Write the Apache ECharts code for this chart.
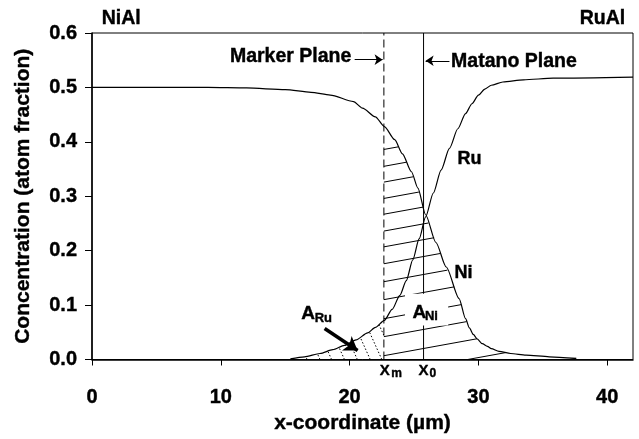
<!DOCTYPE html>
<html>
<head>
<meta charset="utf-8">
<script src="https://cdn.jsdelivr.net/npm/echarts@6/dist/echarts.min.js"></script>
<style>
  html, body { margin: 0; padding: 0; background: #fff; }
  #chart { width: 639px; height: 439px; }
</style>
</head>
<body>
<div id="chart"></div>
<script>
// Ni and Ru concentration profiles (atom fraction) vs x-coordinate (um)
var niX = [0, 5, 9, 12, 15, 17, 18.5, 20.3, 21.0, 22.0, 22.7, 23.5, 24.1, 24.8, 25.3, 25.9, 26.7, 27.5, 28.5, 29.0, 29.3, 29.6, 29.9, 30.3, 30.7, 31.0, 31.6, 32.5, 33.7, 35.5, 37.6];
var niY = [0.500, 0.500, 0.500, 0.499, 0.496, 0.491, 0.486, 0.474, 0.462, 0.446, 0.428, 0.404, 0.378, 0.345, 0.315, 0.266, 0.215, 0.170, 0.112, 0.075, 0.058, 0.046, 0.038, 0.029, 0.024, 0.020, 0.015, 0.011, 0.008, 0.005, 0.002];
var ruX = [15.4, 16.5, 17.7, 18.7, 19.6, 20.5, 21.4, 22.0, 22.7, 23.3, 23.9, 24.4, 24.9, 25.4, 25.9, 26.5, 27.1, 27.75, 28.4, 29.0, 29.5, 30.0, 30.5, 31.0, 31.9, 33.5, 35.8, 42];
var ruY = [0.001, 0.005, 0.011, 0.018, 0.026, 0.036, 0.049, 0.059, 0.072, 0.092, 0.118, 0.145, 0.183, 0.222, 0.262, 0.306, 0.348, 0.388, 0.424, 0.452, 0.470, 0.486, 0.497, 0.504, 0.510, 0.514, 0.517, 0.519];

// planes
var markerX = 22.66;
var matanoX = 25.74;

// hatching of A_Ni: heights where each line leaves the marker plane
var niHatchStarts = [0.386, 0.355, 0.326, 0.296, 0.267, 0.236, 0.207, 0.176, 0.143, 0.110, 0.075, 0.042, 0.007, -0.028, -0.062];
var niHatchSlope = 0.0043;
// dotted hatching of A_Ru: where each line meets the axis
var ruHatchBases = [16.7, 17.7, 18.6, 19.6, 20.6, 21.6, 22.5, 23.5];
var ruHatchLean = 19;

var FONT = "'Liberation Sans', Arial, sans-serif";

function interp(xs, ys, x) {
  if (x < xs[0] || x > xs[xs.length - 1]) return 0;
  for (var i = 1; i < xs.length; i++) {
    if (x <= xs[i]) {
      var t = (x - xs[i - 1]) / (xs[i] - xs[i - 1]);
      return ys[i - 1] + t * (ys[i] - ys[i - 1]);
    }
  }
  return 0;
}

// walk along a line and keep the parts inside the region
function runs(pointAt, inside, t0, t1, dt, out) {
  var start = null, last = null;
  for (var t = t0; t <= t1; t += dt) {
    var p = pointAt(t);
    if (inside(p)) {
      if (!start) start = p;
      last = p;
    } else if (start) {
      out.push([start[0], start[1], last[0], last[1]]);
      start = null;
    }
  }
  if (start) out.push([start[0], start[1], last[0], last[1]]);
}

var niHatch = [];
niHatchStarts.forEach(function (y0) {
  runs(function (x) { return [x, y0 + niHatchSlope * (x - markerX)]; },
    function (p) { return p[1] >= 0 && p[1] <= interp(niX, niY, p[0]); },
    markerX, 42, 0.01, niHatch);
});

var ruHatch = [];
ruHatchBases.forEach(function (xb) {
  runs(function (y) { return [xb - ruHatchLean * y, y]; },
    function (p) { return p[0] <= markerX && p[0] >= ruX[0] && p[1] <= interp(ruX, ruY, p[0]); },
    0, 0.1, 0.0004, ruHatch);
});

function zip(a, b) { return a.map(function (v, i) { return [v, b[i]]; }); }

function segItem(dash) {
  return function (params, api) {
    var p1 = api.coord([api.value(0), api.value(1)]);
    var p2 = api.coord([api.value(2), api.value(3)]);
    return {
      type: 'line',
      shape: { x1: p1[0], y1: p1[1], x2: p2[0], y2: p2[1] },
      style: { stroke: '#000', lineWidth: 1, lineDash: dash }
    };
  };
}

var dom = document.getElementById('chart');
var chart = echarts.init(dom, null, { renderer: 'canvas' });

var boldText = { fontFamily: FONT, fontWeight: 'bold', color: '#000', textBorderColor: '#000', textBorderWidth: 0.4 };

var option = {
  animation: false,
  backgroundColor: '#fff',
  grid: { left: 92, right: 6, top: 33, bottom: 78, show: true, borderColor: '#000', borderWidth: 1 },
  xAxis: {
    type: 'value', min: 0, max: 42, interval: 10,
    name: 'x-coordinate (\u00b5m)', nameLocation: 'middle', nameGap: 53,
    nameTextStyle: Object.assign({ fontSize: 21 }, boldText),
    axisLine: { lineStyle: { color: '#000', width: 1.5 } },
    axisTick: { inside: false, length: 6, lineStyle: { color: '#000', width: 1 } },
    axisLabel: Object.assign({ fontSize: 20, margin: 28, showMaxLabel: false }, boldText),
    splitLine: { show: false }
  },
  yAxis: {
    type: 'value', min: 0, max: 0.6, interval: 0.1,
    name: 'Concentration (atom fraction)', nameLocation: 'middle', nameGap: 58,
    nameTextStyle: Object.assign({ fontSize: 21 }, boldText),
    axisLine: { lineStyle: { color: '#000', width: 1.5 } },
    axisTick: { inside: false, length: 7, lineStyle: { color: '#000', width: 1 } },
    axisLabel: Object.assign({ fontSize: 20, margin: 15,
      formatter: function (v) { return v.toFixed(1); } }, boldText),
    splitLine: { show: false }
  },
  series: [
    {
      name: 'Ni', type: 'line', data: zip(niX, niY), showSymbol: false,
      smooth: 0.25, smoothMonotone: 'x',
      lineStyle: { color: '#000', width: 1.2 },
      markLine: {
        silent: true, animation: false, label: { show: false },
        symbol: ['none', 'arrow'], symbolSize: 8,
        lineStyle: { color: '#000', type: 'solid', width: 1 },
        data: [
          [{ coord: [20.39, 0.551] }, { coord: [22.56, 0.551] }],
          [{ coord: [27.75, 0.549] }, { coord: [25.9, 0.549] }],
          [{ coord: [18.06, 0.057], lineStyle: { width: 3.5 } }, { coord: [20.62, 0.0165], symbolSize: 13 }]
        ]
      }
    },
    {
      name: 'Ru', type: 'line', data: zip(ruX, ruY), showSymbol: false,
      smooth: 0.25, smoothMonotone: 'x',
      lineStyle: { color: '#000', width: 1.2 }
    },
    {
      name: 'Marker Plane', type: 'line', data: [[markerX, 0], [markerX, 0.6]], showSymbol: false,
      lineStyle: { color: '#000', width: 1, type: [8, 4] }
    },
    {
      name: 'Matano Plane', type: 'line', data: [[matanoX, 0], [matanoX, 0.6]], showSymbol: false,
      lineStyle: { color: '#000', width: 1 }
    },
    {
      name: 'A_Ni hatch', type: 'custom', data: niHatch, encode: { x: [0, 2], y: [1, 3] },
      renderItem: segItem(null), silent: true
    },
    {
      name: 'A_Ru hatch', type: 'custom', data: ruHatch, encode: { x: [0, 2], y: [1, 3] },
      renderItem: segItem([1.5, 2]), silent: true
    }
  ]
};

chart.setOption(option);

// text annotations anchored in data coordinates
function px(x, y) { return chart.convertToPixel({ gridIndex: 0 }, [x, y]); }
function txt(text, x, y, size, align) {
  var p = px(x, y);
  return {
    type: 'text', x: p[0], y: p[1], z: 100,
    style: { text: text, fontFamily: FONT, fontWeight: 'bold', fontSize: size, fill: '#000',
      stroke: '#000', lineWidth: 0.4, align: align || 'left', verticalAlign: 'middle' }
  };
}

var box1 = px(24.3, 0.121), box2 = px(27.65, 0.0625);
var graphics = [
  { type: 'rect', z: 99, shape: { x: box1[0], y: box1[1], width: box2[0] - box1[0], height: box2[1] - box1[1] },
    style: { fill: '#fff' } },
  txt('NiAl', 0.75, 0.626, 19.5),
  txt('RuAl', 41.4, 0.626, 19.5, 'right'),
  txt('Marker Plane', 20.13, 0.556, 19.5, 'right'),
  txt('Matano Plane', 27.88, 0.547, 19.5),
  txt('Ru', 29.3, 0.368, 18, 'center'),
  txt('Ni', 28.84, 0.159, 18, 'center'),
  txt('A', 24.88, 0.085, 19),
  txt('Ni', 25.85, 0.0787, 13),
  txt('A', 16.25, 0.084, 19),
  txt('Ru', 17.29, 0.075, 13),
  txt('X', 22.33, -0.020, 15),
  txt('m', 23.23, -0.0256, 12),
  txt('X', 25.35, -0.020, 15),
  txt('0', 26.2, -0.0256, 12)
];
chart.setOption({ graphic: graphics });

window.onresize = function () { chart.resize(); };
</script>
</body>
</html>
